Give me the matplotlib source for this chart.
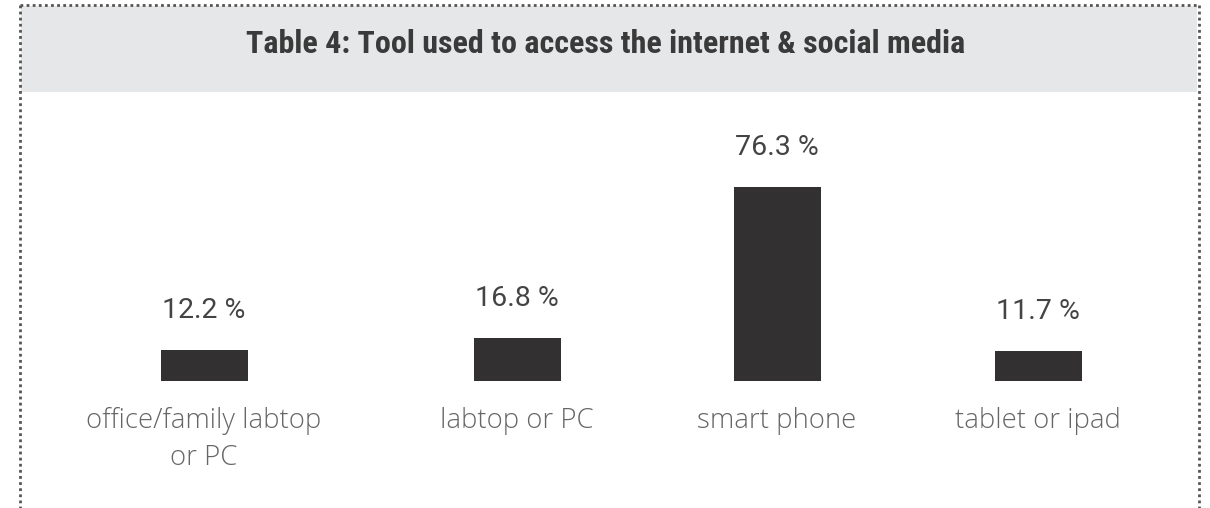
import matplotlib
matplotlib.use("Agg")
import matplotlib.pyplot as plt
from matplotlib.patches import Rectangle
from matplotlib.lines import Line2D

# ---- data ----
categories = ["office/family labtop\nor PC", "labtop or PC", "smart phone", "tablet or ipad"]
values = [12.2, 16.8, 76.3, 11.7]
value_labels = ["12.2 %", "16.8 %", "76.3 %", "11.7 %"]
title = "Table 4: Tool used to access the internet & social media"

# ---- layout (pixels) ----
W, H = 1210, 508
centers = [204, 517, 777, 1038]
bar_w = 87

fig = plt.figure(figsize=(W / 100, H / 100), dpi=100)
fig.patch.set_facecolor("white")

# background / frame axes in pixel coords (y down)
bg = fig.add_axes([0, 0, 1, 1])
bg.set_xlim(0, W)
bg.set_ylim(H, 0)
bg.axis("off")
bg.add_patch(Rectangle((21, 6), 1176, 86, facecolor="#e6e7e9", edgecolor="none", zorder=0))
dot = dict(color="#555555", linewidth=2.0, linestyle=(0, (1, 1.2)), zorder=2)
bg.add_line(Line2D([20, 1199], [5, 5], **dot))
bg.add_line(Line2D([20, 20], [5, H], **dot))
bg.add_line(Line2D([1199, 1199], [5, H], **dot))
bg.text(606, 53, title, ha="center", va="baseline", fontsize=23, fontweight="bold",
        color="#3a3a3a", family=["Roboto Condensed", "Liberation Sans Narrow", "Roboto", "DejaVu Sans"])

# bar axes: bottom at y=381px, 2.54 px per unit
ax = fig.add_axes([0, 127 / H, 1, 254 / H])
ax.set_xlim(0, W)
ax.set_ylim(0, 100)
ax.axis("off")
ax.patch.set_alpha(0)
bars = ax.bar(centers, values, width=bar_w, color="#323031", zorder=3)

for x, v, lab in zip(centers, values, value_labels):
    ax.annotate(lab, xy=(x, v), xytext=(0, 32), textcoords="offset pixels",
                ha="center", va="baseline", fontsize=20.5, color="#444444",
                family=["Roboto", "DejaVu Sans"], fontweight="normal")

for x, cat in zip(centers, categories):
    ax.annotate(cat, xy=(x, 0), xytext=(0, -26), textcoords="offset pixels",
                ha="center", va="top", fontsize=19.8, color="#666666",
                family=["Open Sans", "DejaVu Sans"], fontweight="light",
                linespacing=1.42)

fig.savefig("out.png", dpi=100)
